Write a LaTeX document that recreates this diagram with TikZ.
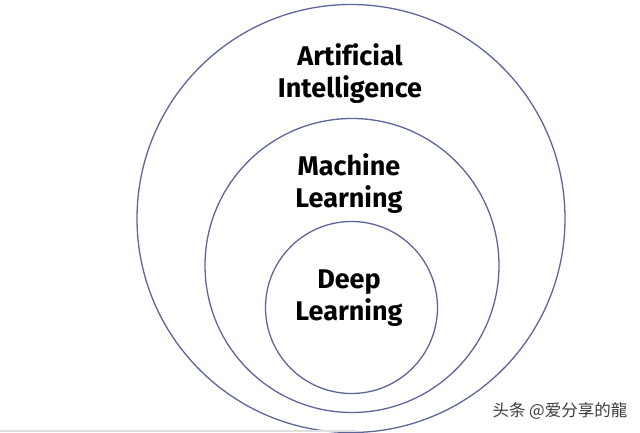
\documentclass[tikz,border=0pt]{standalone}
\usepackage{fontspec}
\setmainfont[Ligatures=NoCommon]{Fira Sans}
\newfontfamily\cjkfont{Noto Sans CJK SC}
\definecolor{ringblue}{RGB}{92,102,152}
\definecolor{marktext}{RGB}{60,60,60}

\begin{document}
\begin{tikzpicture}[x=1pt, y=-1pt, line width=1.3pt,
    ring/.style={draw=ringblue},
    label/.style={font=\bfseries\fontsize{27}{32}\selectfont, align=center, inner sep=0pt}]
  \useasboundingbox (0,0) rectangle (640,432);
  % the three rings
  \draw[ring] (351,218.5) circle (214pt);
  \draw[ring] (352,265.5) circle (147pt);
  \draw[ring] (351.5,307.5) circle (86pt);
  % labels
  \node[label] (ai) at (350,74) {Artificial\\Intelligence};
  \node[label] (ml) at (349,184) {Machine\\Learning};
  \node[label] (dl) at (349,298) {Deep\\Learning};
  % watermark and bottom rule
  \node[font=\cjkfont\fontsize{16.5}{18}\selectfont, text=marktext, anchor=east, inner sep=0pt] (mark) at (628,411) {头条 @爱分享的龍};
  \fill[black!12] (0,429.5) rectangle (357,432);
\end{tikzpicture}
\end{document}
